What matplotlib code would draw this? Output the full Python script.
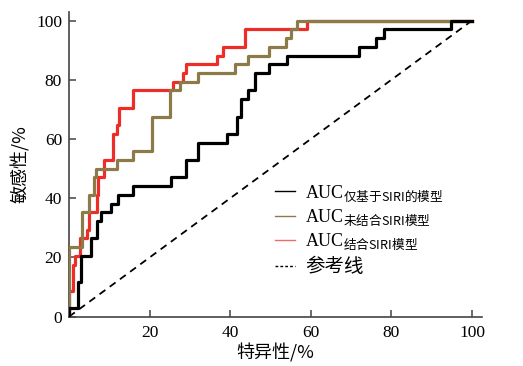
import matplotlib
matplotlib.use("Agg")
import matplotlib.pyplot as plt
from matplotlib.lines import Line2D

plt.rcParams["font.family"] = ["Liberation Serif", "Noto Sans CJK SC", "DejaVu Sans"]
plt.rcParams["mathtext.fontset"] = "custom"
plt.rcParams["mathtext.rm"] = "Noto Sans CJK SC"

# ROC step points (1 - specificity %, sensitivity %)
fpr_siri = [0, 0, 2.3, 3.0, 5.5, 7.0, 8.0, 10.5, 12.2, 15.9, 25.2, 29.0, 31.9,
            39.3, 41.8, 42.6, 44.3, 46.1, 49.6, 54.1, 71.9, 76.2, 78.2, 94.9, 100]
tpr_siri = [0, 2.9, 11.8, 20.6, 26.5, 32.4, 35.3, 38.2, 41.2, 44.1, 47.1, 52.9, 58.8,
            61.8, 67.6, 73.5, 76.5, 82.4, 85.3, 88.2, 91.2, 94.1, 97.1, 100, 100]

fpr_nosiri = [0, 0, 3.3, 5.0, 6.2, 6.8, 12.0, 15.9, 20.7, 25.0, 27.6, 32.0,
              41.1, 44.4, 49.6, 53.8, 55.1, 56.7, 100]
tpr_nosiri = [0, 23.5, 35.3, 41.2, 47.1, 50.0, 52.9, 55.9, 67.6, 76.5, 79.4, 82.4,
              85.3, 88.2, 91.2, 94.1, 97.1, 100, 100]

fpr_comb = [0, 0, 0.9, 1.5, 2.7, 4.4, 4.9, 6.9, 7.3, 8.7, 10.8, 11.8, 12.5, 15.9,
            25.7, 28.2, 29.0, 36.8, 38.1, 43.7, 59.0, 100]
tpr_comb = [0, 8.8, 17.6, 20.6, 26.5, 29.4, 35.3, 41.2, 47.1, 52.9, 61.8, 64.7, 70.6, 76.5,
            79.4, 82.4, 85.3, 88.2, 91.2, 97.1, 100, 100]

ref_line = [0, 100]

labels = [r"AUC$_{\mathrm{仅基于SIRI的模型}}$",
          r"AUC$_{\mathrm{未结合SIRI模型}}$",
          r"AUC$_{\mathrm{结合SIRI模型}}$",
          "参考线"]

c_black = "#000000"
c_olive = "#8C7B48"
c_red = "#EC2D28"

fig = plt.figure(figsize=(5.23, 3.66), dpi=100)
ax = fig.add_axes([0.1319, 0.1347, 0.789, 0.8333])

ax.plot(ref_line, ref_line, color="black", lw=1.3, ls=(0, (4, 3)), zorder=1)
ax.step(fpr_comb, tpr_comb, where="post", color=c_red, lw=2.3, zorder=2)
ax.step(fpr_nosiri, tpr_nosiri, where="post", color=c_olive, lw=2.3, zorder=3)
ax.step(fpr_siri, tpr_siri, where="post", color=c_black, lw=2.3, zorder=4)

ax.set_xlim(0, 102.4)
ax.set_ylim(0, 103)
ax.set_xticks([20, 40, 60, 80, 100])
ax.set_yticks([0, 20, 40, 60, 80, 100])
ax.tick_params(direction="in", length=5, width=1.1, color="#444444",
               labelsize=12.5, pad=5)
ax.tick_params(axis="x", pad=6)
for s in ["top", "right"]:
    ax.spines[s].set_visible(False)
for s in ["left", "bottom"]:
    ax.spines[s].set_color("#444444")
    ax.spines[s].set_linewidth(1.2)

ax.set_xlabel("特异性/%", fontsize=13, family=["Noto Sans CJK SC", "DejaVu Sans"], labelpad=2)
ax.set_ylabel("敏感性/%", fontsize=13, family=["Noto Sans CJK SC", "DejaVu Sans"], labelpad=4)

handles = [Line2D([], [], color=c_black, lw=1.0),
           Line2D([], [], color=c_olive, lw=1.0),
           Line2D([], [], color="#F06A66", lw=1.0),
           Line2D([], [], color="black", lw=1.0, ls=(0, (2, 1.5)))]
leg = ax.legend(handles, labels, loc="upper left", bbox_to_anchor=(0.526, 0.50),
                bbox_transform=fig.transFigure, frameon=False, fontsize=13,
                handlelength=1.1, handletextpad=0.55, labelspacing=0.2,
                borderpad=0, borderaxespad=0)
leg.get_texts()[3].set_family(["Noto Sans CJK SC", "DejaVu Sans"])
leg.get_texts()[3].set_fontsize(14)

fig.savefig("out.png", dpi=100)
